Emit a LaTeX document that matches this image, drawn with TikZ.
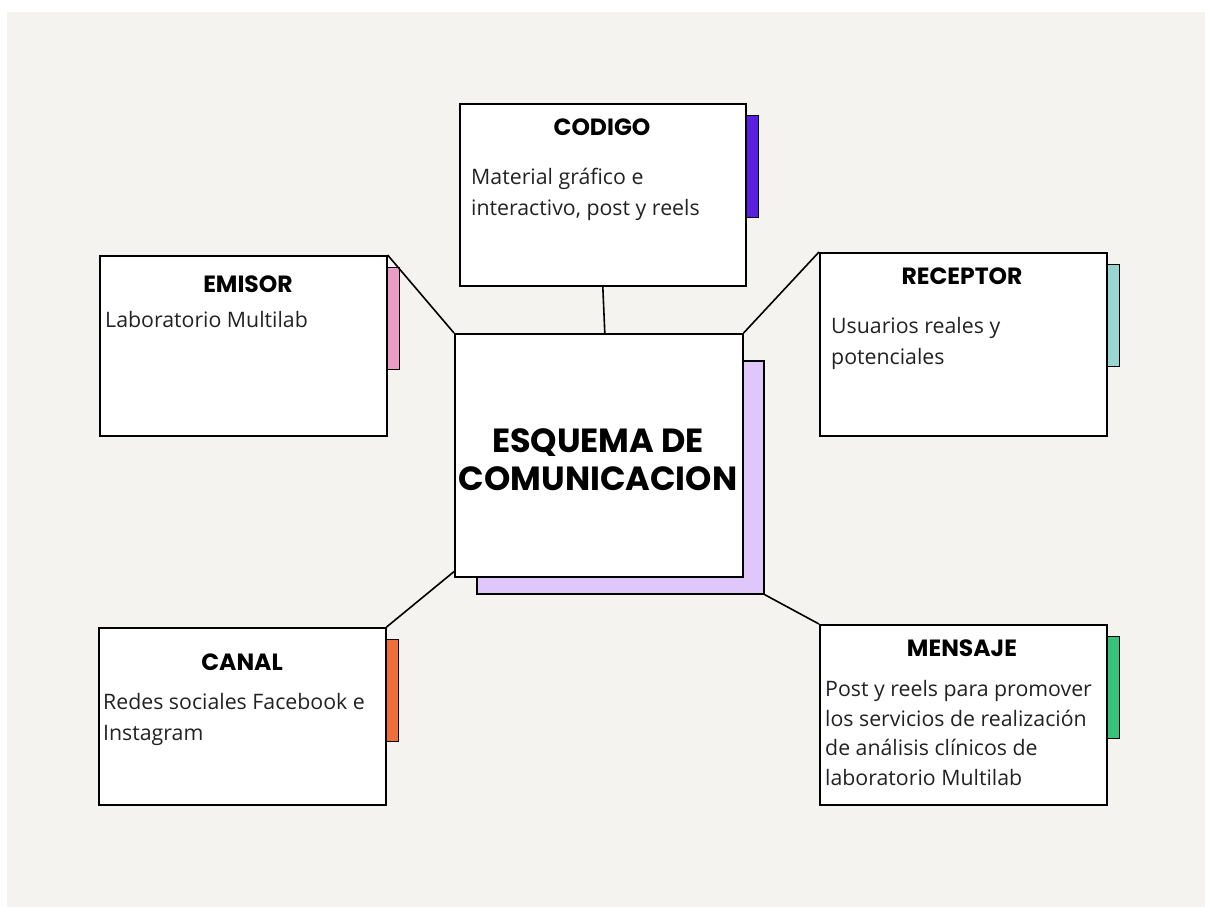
\documentclass[tikz,border=0pt]{standalone}
\usepackage{fontspec}
\setmainfont{Open Sans}
\newfontfamily\titlefont{Poppins}
\usetikzlibrary{calc}
\definecolor{bg}{HTML}{F4F3EF}
\definecolor{txt}{HTML}{222222}
\definecolor{tabpurple}{HTML}{5B1FE0}
\definecolor{tabpink}{HTML}{EA9BC6}
\definecolor{tabteal}{HTML}{98D6D3}
\definecolor{taborange}{HTML}{EE6F3A}
\definecolor{tabgreen}{HTML}{35C47A}
\definecolor{lavender}{HTML}{DFC6FB}
\begin{document}
\begin{tikzpicture}[x=1pt,y=-1pt,
  card/.style={draw=black,line width=1.6pt,fill=white,inner sep=0pt,anchor=north west},
  tabbox/.style={draw=black,line width=1.4pt,inner sep=0pt,anchor=north west,minimum width=12.5pt,minimum height=102pt},
  ttl/.style={font=\titlefont\bfseries\fontsize{23.5}{26}\selectfont,text=black,inner sep=0pt},
  body/.style={font=\fontsize{21.3}{31}\selectfont,text=txt,align=left,inner sep=0pt,anchor=west},
  link/.style={draw=black,line width=1.6pt}]
\useasboundingbox (0,0) rectangle (1205,907);
\fill[bg] (7,12) rectangle (1205,907);

% tabs
\node[tabbox,fill=tabpurple] (tc) at (745,115) {};
\node[tabbox,fill=tabpink] (te) at (386,267) {};
\node[tabbox,fill=tabteal] (tr) at (1106,264) {};
\node[tabbox,fill=taborange] (tca) at (385,639) {};
\node[tabbox,fill=tabgreen] (tm) at (1106,636) {};

% cards
\node[card,minimum width=286pt,minimum height=182pt] (codigo) at (459,103) {};
\node[card,minimum width=287pt,minimum height=180pt] (emisor) at (99,255) {};
\node[card,minimum width=287pt,minimum height=183pt] (receptor) at (819,252) {};
\node[card,minimum width=287pt,minimum height=177pt] (canal) at (98,627) {};
\node[card,minimum width=287pt,minimum height=180pt] (mensaje) at (819,624) {};

% central
\node[card,fill=lavender,minimum width=287pt,minimum height=233pt] (sombra) at (476,360) {};
\node[card,minimum width=288pt,minimum height=243pt] (centro) at (454,333) {};

% connectors
\draw[link] (codigo.south) -- ([xshift=6pt]centro.north);
\draw[link] (emisor.north east) -- (centro.north west);
\draw[link] (receptor.north west) -- (centro.north east);
\draw[link] (canal.north east) -- ([yshift=6pt]centro.south west);
\draw[link] (mensaje.north west) -- (sombra.south east);

% titles
\node[ttl] (tcod) at (602,127) {CODIGO};
\node[ttl] (tem) at (248,284) {EMISOR};
\node[ttl] (trec) at (962,276) {RECEPTOR};
\node[ttl] (tcan) at (242,662) {CANAL};
\node[ttl] (tmen) at (962,648) {MENSAJE};
\node[ttl,font=\titlefont\bfseries\fontsize{33.5}{38}\selectfont,align=center] (tcen) at (598,460) {ESQUEMA DE\\COMUNICACION};

% body texts
\node[body] (bcod) at (471,194) {Material gráfico e\\interactivo, post y reels};
\node[body] (bem) at (105,320) {Laboratorio Multilab};
\node[body] (brec) at (831,343) {Usuarios reales y\\potenciales};
\node[body] (bcan) at (103,719) {Redes sociales Facebook e\\Instagram};
\node[body,font=\fontsize{21.3}{29.5}\selectfont] (bmen) at (825,733) {Post y reels para promover\\los servicios de realización\\de análisis clínicos de\\laboratorio Multilab};
\end{tikzpicture}
\end{document}
